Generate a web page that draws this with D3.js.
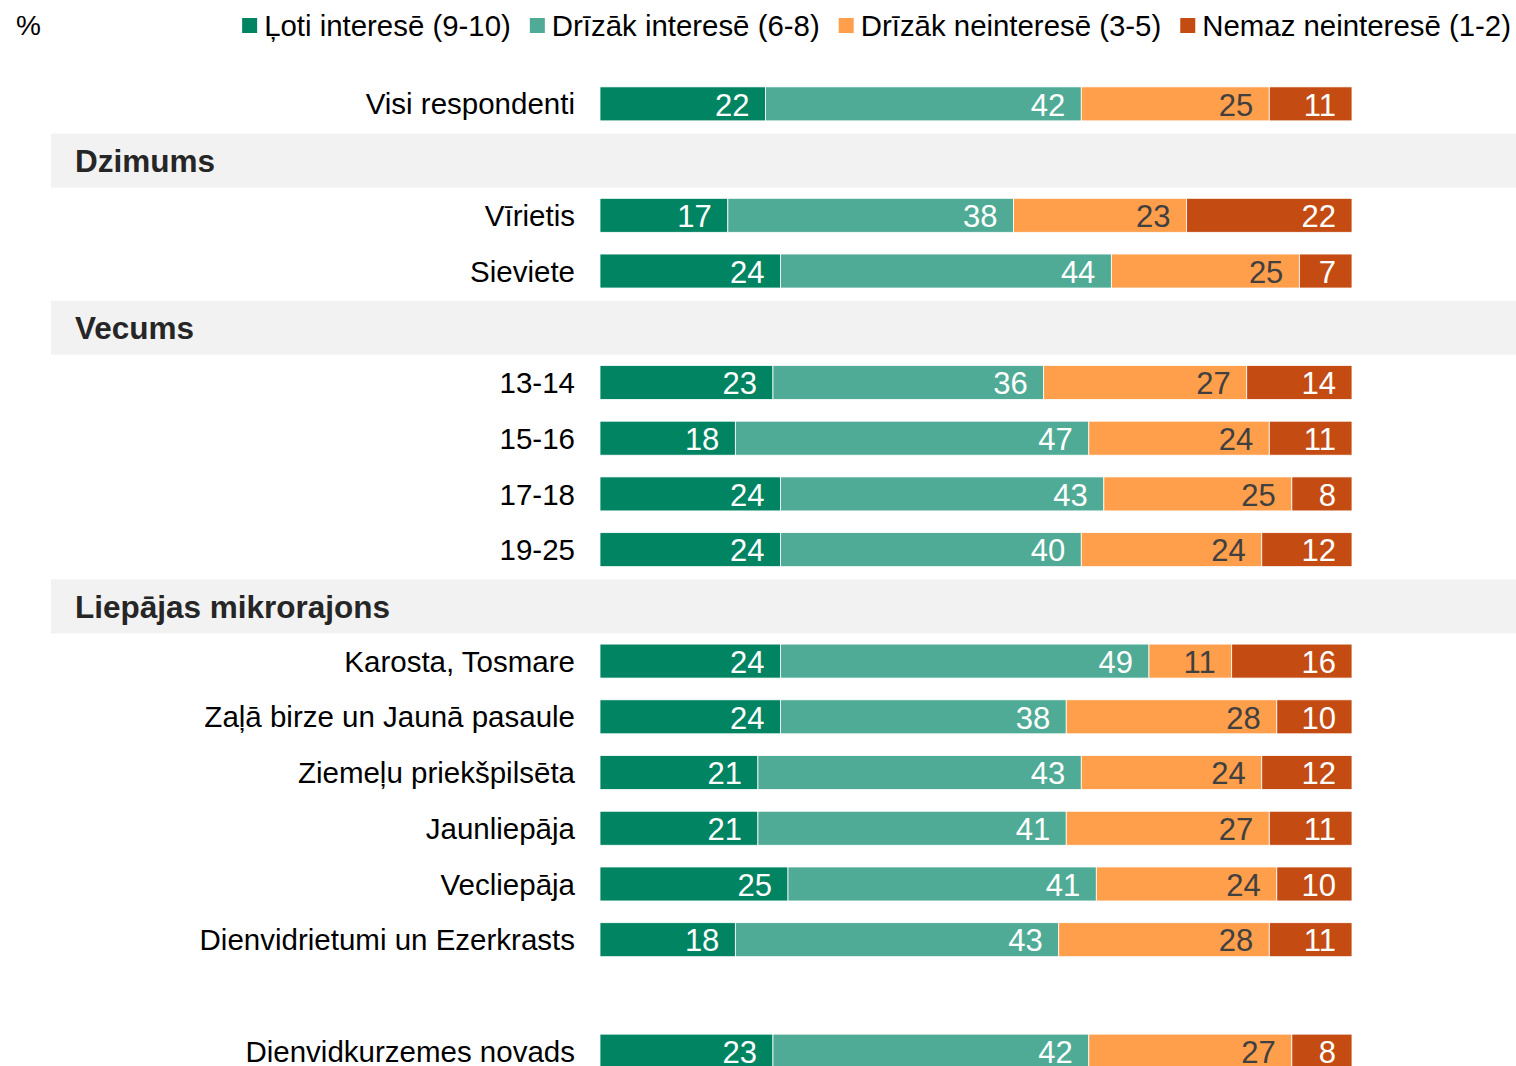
<!DOCTYPE html>
<meta charset="utf-8">
<head>
  <style>
    html, body { margin: 0; padding: 0; background: #fff; }
    svg text { font-family: "Liberation Sans", Arial, sans-serif; }
  </style>
</head>
<script src="https://cdn.jsdelivr.net/npm/d3@7"></script>
<body>
<script>
// series names and colours
var seriesNames = ["Ļoti interesē (9-10)", "Drīzāk interesē (6-8)", "Drīzāk neinteresē (3-5)", "Nemaz neinteresē (1-2)"];
var seriesColors = ["#008462", "#4fab96", "#ff9e4b", "#c44c12"];
var labelColors = ["#ffffff", "#ffffff", "#404040", "#ffffff"];

// rows top to bottom, "" = empty spacer row
var rowLabels = ["Visi respondenti", "Dzimums", "Vīrietis", "Sieviete", "Vecums", "13-14", "15-16", "17-18", "19-25",
  "Liepājas mikrorajons", "Karosta, Tosmare", "Zaļā birze un Jaunā pasaule", "Ziemeļu priekšpilsēta",
  "Jaunliepāja", "Vecliepāja", "Dienvidrietumi un Ezerkrasts", "", "Dienvidkurzemes novads"];
var headerRows = ["Dzimums", "Vecums", "Liepājas mikrorajons"];

var loti =       [22, null, 17, 24, null, 23, 18, 24, 24, null, 24, 24, 21, 21, 25, 18, null, 23];
var drizakInt =  [42, null, 38, 44, null, 36, 47, 43, 40, null, 49, 38, 43, 41, 41, 43, null, 42];
var drizakNein = [25, null, 23, 25, null, 27, 24, 25, 24, null, 11, 28, 24, 27, 24, 28, null, 27];
var nemaz =      [11, null, 22, 7,  null, 14, 11, 8,  12, null, 16, 10, 12, 11, 10, 11, null, 8];

var width = 1516, height = 1066;

var svg = d3.select("body").append("svg")
  .attr("width", width)
  .attr("height", height);

var y = d3.scaleBand()
  .domain(d3.range(rowLabels.length))
  .range([76, 1079]);

var x = d3.scaleLinear().domain([0, 100]).range([600, 1352]);

var barH = 34;

// grey header bands
headerRows.forEach(function(h) {
  var i = rowLabels.indexOf(h);
  var cy = y(i) + y.bandwidth() / 2 + 1;
  svg.append("rect")
    .attr("x", 51).attr("width", width - 51)
    .attr("y", cy - 27).attr("height", 54)
    .attr("fill", "#f2f2f2");
  svg.append("text")
    .attr("x", 75).attr("y", cy)
    .attr("dy", "0.36em")
    .attr("font-size", 31.5).attr("font-weight", "bold")
    .attr("fill", "#262626")
    .text(h);
});

// stacked data
var rows = [];
rowLabels.forEach(function(lab, i) {
  if (loti[i] == null) return;
  rows.push({ idx: i, label: lab, vals: [loti[i], drizakInt[i], drizakNein[i], nemaz[i]] });
});

rows.forEach(function(r) {
  var cy = y(r.idx) + y.bandwidth() / 2;
  svg.append("text")
    .attr("x", 575).attr("y", cy).attr("dy", "0.36em")
    .attr("text-anchor", "end")
    .attr("font-size", 29.5)
    .attr("fill", "#000")
    .text(r.label);

  var acc = 0;
  r.vals.forEach(function(v, k) {
    var x0 = x(acc), x1 = x(acc + v);
    acc += v;
    svg.append("rect")
      .attr("x", x0).attr("width", x1 - x0)
      .attr("y", cy - barH / 2).attr("height", barH)
      .attr("fill", seriesColors[k])
      .attr("stroke", "#ffffff").attr("stroke-width", 0.8);
    svg.append("text")
      .attr("x", x1 - 16).attr("y", cy).attr("dy", "0.38em")
      .attr("text-anchor", "end")
      .attr("font-size", 31)
      .attr("fill", labelColors[k])
      .text(v);
  });
});

// "%" unit
svg.append("text")
  .attr("x", 16).attr("y", 35)
  .attr("font-size", 28).attr("fill", "#000")
  .text("%");

// legend, right aligned
var legend = svg.append("g");
var lx = 0;
seriesNames.forEach(function(name, k) {
  var g = legend.append("g").attr("transform", "translate(" + lx + ",0)");
  g.append("rect").attr("x", 0).attr("y", 18).attr("width", 15).attr("height", 15)
    .attr("fill", seriesColors[k]);
  var t = g.append("text").attr("x", 22).attr("y", 36)
    .attr("font-size", 29.4).attr("fill", "#000").text(name);
  lx += 22 + t.node().getComputedTextLength() + 19;
});
var legendW = lx - 19;
legend.attr("transform", "translate(" + (1511 - legendW) + ",0)");
</script>
</body>
